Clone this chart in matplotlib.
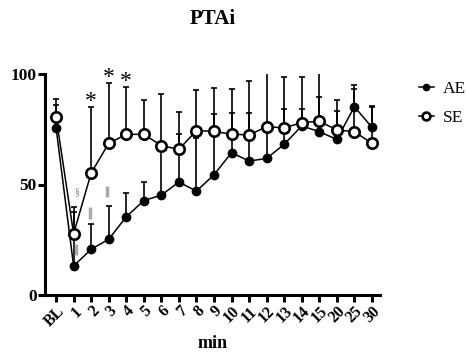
import matplotlib.pyplot as plt
import numpy as np

plt.rcParams['font.family'] = ['Liberation Serif', 'DejaVu Serif']

minutes = ['BL', '1', '2', '3', '4', '5', '6', '7', '8', '9', '10',
           '11', '12', '13', '14', '15', '20', '25', '30']
ae_mean = [75.7, 13.1, 20.7, 25.2, 35.4, 42.7, 45.2, 51.1, 47.0, 54.4, 64.4,
           60.6, 61.8, 68.2, 76.5, 73.9, 70.4, 85.2, 75.9]
ae_top = [86.0, 37.5, 32.0, 40.3, 46.0, 51.1, 66.0, 72.9, 70.9, 81.7, 82.2,
          82.2, 78.0, 84.2, 84.2, 89.7, 83.4, 93.1, 84.9]
se_mean = [80.7, 27.7, 55.2, 68.6, 72.7, 72.7, 67.6, 65.9, 74.4, 74.0, 72.8,
           72.4, 76.2, 75.6, 78.0, 78.6, 74.7, 73.9, 68.6]
se_top = [88.7, 39.7, 84.9, 96.1, 94.0, 88.2, 90.8, 82.6, 92.8, 93.8, 93.2,
          97.0, 106.0, 98.5, 98.5, 106.0, 88.2, 95.0, 85.5]

x = np.arange(len(minutes))
ae_err = np.array(ae_top) - np.array(ae_mean)
se_err = np.array(se_top) - np.array(se_mean)

fig = plt.figure(figsize=(4.67, 3.54), dpi=100)
ax = fig.add_axes([45 / 467, 59 / 354, 335 / 467, 221 / 354])

# upper-only error bars
ax.errorbar(x, ae_mean, yerr=[np.zeros_like(ae_err), ae_err], fmt='none',
            ecolor='black', elinewidth=1.2, capsize=2.5, capthick=1.2, zorder=2)
ax.errorbar(x, se_mean, yerr=[np.zeros_like(se_err), se_err], fmt='none',
            ecolor='black', elinewidth=1.2, capsize=2.5, capthick=1.2, zorder=2)

ax.plot(x, ae_mean, '-o', color='black', lw=1.1, ms=6, label='AE', zorder=3)
ax.plot(x, se_mean, '-o', color='black', lw=1.1, ms=7.5, mfc='white', mew=1.9,
        label='SE', zorder=4)

# significance marks
for i, y in [(2, 87.5), (3, 98.5), (4, 96.5)]:
    ax.text(i, y, '*', ha='center', va='center', fontsize=17, clip_on=False)
ax.text(1.15, 46.7, '§', ha='center', va='center', fontsize=7, color='gray')
for i, y in [(1.15, 20.4), (1.95, 37.1), (2.9, 46.7)]:
    ax.plot([i, i], [y - 2.5, y + 2.5], color='#aaaaaa', lw=2.5, solid_capstyle='butt')

ax.set_xlim(-0.63, 18.46)
ax.set_ylim(0, 100)
ax.set_yticks([0, 50, 100])
ax.set_xticks(x)
ax.set_xticklabels(minutes, rotation=45, ha='right', rotation_mode='anchor',
                   fontweight='bold', fontsize=11.5)
for lab in ax.get_yticklabels():
    lab.set_fontweight('bold')
    lab.set_fontsize(12.5)

for s in ['top', 'right']:
    ax.spines[s].set_visible(False)
for s in ['left', 'bottom']:
    ax.spines[s].set_linewidth(2.2)
ax.tick_params(width=2.2, length=5, pad=1)

ax.set_title('PTAi', fontweight='bold', fontsize=15, pad=36)
ax.set_xlabel('min', fontweight='bold', fontsize=13, labelpad=4)

leg = ax.legend(loc='upper left', bbox_to_anchor=(410 / 467, 1 - 72 / 354),
                bbox_transform=fig.transFigure, frameon=False, borderpad=0,
                fontsize=12.5, handlelength=0.9, handletextpad=0.5,
                labelspacing=0.75, markerscale=0.75)

fig.savefig('out.png', dpi=100)
